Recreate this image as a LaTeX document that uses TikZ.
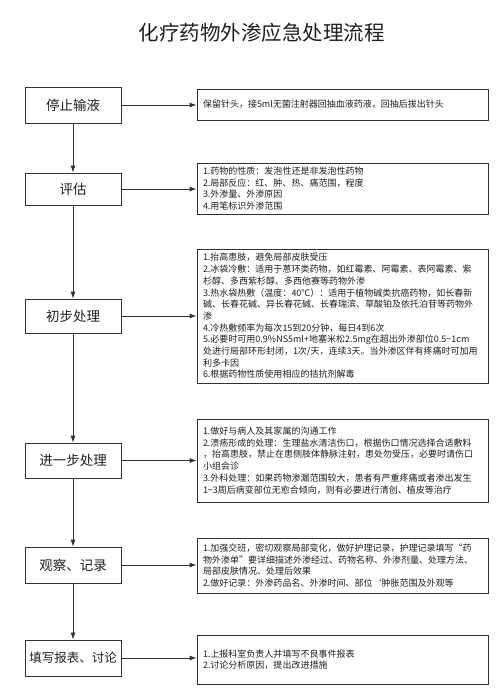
\documentclass[tikz,border=0pt]{standalone}
\usepackage{fontspec}
\newfontfamily\cjk{Noto Sans CJK SC}
\usetikzlibrary{arrows.meta}
\definecolor{linegray}{HTML}{333333}
\definecolor{textgray}{HTML}{1E1E1E}

\begin{document}
\begin{tikzpicture}[x=1pt,y=-1pt]
        \tikzstyle{every node}=[text=textgray]
        \tikzstyle{stepbox}=[draw=linegray, line width=0.9pt, minimum width=96pt, inner sep=0pt, font=\cjk\fontsize{13.5}{16}\selectfont]
        \tikzstyle{notebox}=[draw=linegray, line width=0.8pt, text width=279pt, inner xsep=6pt, inner ysep=0pt, align=left, font=\cjk\fontsize{9}{11.7}\selectfont]
        \tikzstyle{flow}=[draw=linegray, line width=0.8pt, -{Latex[length=7pt,width=5pt]}]
        \useasboundingbox (0,0) rectangle (499,693);
        \node[font=\cjk\fontsize{20.5}{24}\selectfont] (title) at (261.5,33) {化疗药物外渗应急处理流程};
        % steps on the left
        \node[stepbox, minimum height=36pt] (stop) at (73,105) {停止输液};
        \node[stepbox, minimum height=32pt] (assess) at (73,189) {评估};
        \node[stepbox, minimum height=34pt] (first) at (73,316) {初步处理};
        \node[stepbox, minimum height=35pt] (further) at (73,460.5) {进一步处理};
        \node[stepbox, minimum height=36pt] (observe) at (73,565) {观察、记录};
        \node[stepbox, minimum height=36pt, font=\cjk\fontsize{12.5}{15}\selectfont] (report) at (73,658) {填写报表、讨论};
        % notes on the right
        \node[notebox, minimum height=31pt] (stopnote) at (342.5,104.5) {保留针头，接5ml无菌注射器回抽血液药液，回抽后拔出针头};
        \node[notebox, minimum height=51pt] (assessnote) at (342.5,188.5) {1.药物的性质：发泡性还是非发泡性药物\\2.局部反应：红、肿、热、痛范围，程度\\3.外渗量、外渗原因\\4.用笔标识外渗范围};
        \node[notebox, minimum height=134pt] (firstnote) at (342.5,316) {1.抬高患肢，避免局部皮肤受压\\2.冰袋冷敷：适用于蒽环类药物，如红霉素、阿霉素、表阿霉素、紫\\杉醇、多西紫杉醇、多西他赛等药物外渗\\3.热水袋热敷（温度：40℃）：适用于植物碱类抗癌药物，如长春新\\碱、长春花碱、异长春花碱、长春瑞滨、草酸铂及依托泊苷等药物外\\渗\\4.冷热敷频率为每次15到20分钟，每日4到6次\\5.必要时可用0.9\%NS5ml+地塞米松2.5mg在超出外渗部位0.5\textasciitilde1cm\\处进行局部环形封闭，1次/天，连续3天。当外渗区伴有疼痛时可加用\\利多卡因\\6.根据药物性质使用相应的拮抗剂解毒};
        \node[notebox, minimum height=83pt] (furthernote) at (342.5,460.5) {1.做好与病人及其家属的沟通工作\\2.溃疡形成的处理：生理盐水清洁伤口，根据伤口情况选择合适敷料\\，抬高患肢，禁止在患侧肢体静脉注射，患处勿受压，必要时请伤口\\小组会诊\\3.外科处理：如果药物渗漏范围较大，患者有严重疼痛或者渗出发生\\1\textasciitilde3周后病变部位无愈合倾向，则有必要进行清创、植皮等治疗};
        \node[notebox, minimum height=55pt] (observenote) at (342.5,565.5) {1.加强交班，密切观察局部变化，做好护理记录，护理记录填写“药\\物外渗单”要详细描述外渗经过、药物名称、外渗剂量、处理方法、\\局部皮肤情况、处理后效果\\2.做好记录：外渗药品名、外渗时间、部位‘肿胀范围及外观等};
        \node[notebox, minimum height=49pt] (reportnote) at (342.5,659.5) {1.上报科室负责人并填写不良事件报表\\2.讨论分析原因，提出改进措施};
        % connectors
        \draw[flow] (stop) -- (assess);
        \draw[flow] (assess) -- (first);
        \draw[flow] (first) -- (further);
        \draw[flow] (further) -- (observe);
        \draw[flow] (observe) -- (report);
        \draw[flow] (stop.east) -- (stop.east -| stopnote.west);
        \draw[flow] (assess.east) -- (assess.east -| assessnote.west);
        \draw[flow] (first.east) -- (first.east -| firstnote.west);
        \draw[flow] (further.east) -- (further.east -| furthernote.west);
        \draw[flow] (observe.east) -- (observe.east -| observenote.west);
        \draw[flow] (report.east) -- (report.east -| reportnote.west);
\end{tikzpicture}
\end{document}
